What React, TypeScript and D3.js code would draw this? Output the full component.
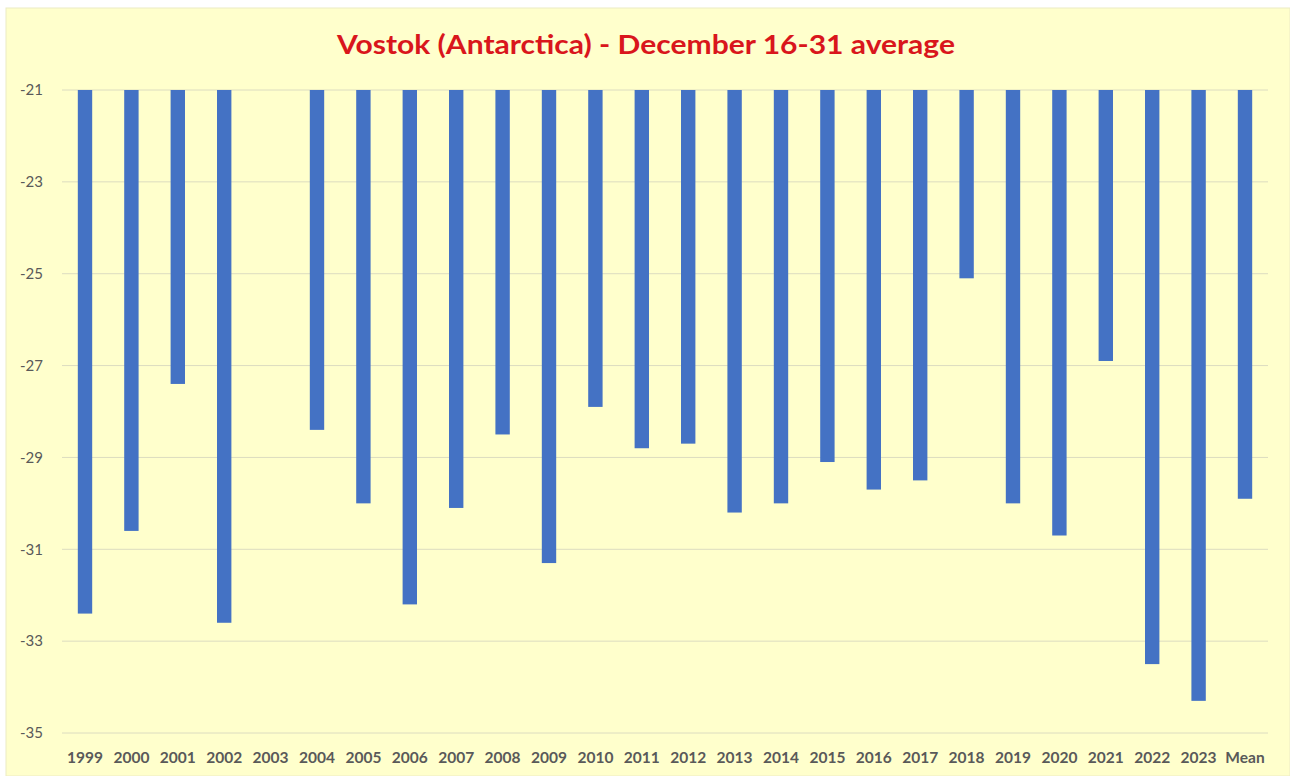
import React from "react";
import * as d3 from "d3";

const categories = ["1999","2000","2001","2002","2003","2004","2005","2006","2007","2008","2009","2010","2011","2012","2013","2014","2015","2016","2017","2018","2019","2020","2021","2022","2023","Mean"];
const values: (number | null)[] = [-32.4,-30.6,-27.4,-32.6,null,-28.4,-30.0,-32.2,-30.1,-28.5,-31.3,-27.9,-28.8,-28.7,-30.2,-30.0,-29.1,-29.7,-29.5,-25.1,-30.0,-30.7,-26.9,-33.5,-34.3,-29.9];
const yTicks = [-21,-23,-25,-27,-29,-31,-33,-35];
const title = "Vostok (Antarctica) - December 16-31 average";

const W = 1290, H = 776;

export default function App() {
  const x = d3.scaleBand<string>().domain(categories).range([61.8, 1268.2]).paddingInner(0.69).paddingOuter(0.345);
  const y = d3.scaleLinear().domain([-21, -35]).range([90, 733]);
  return (
    <svg width={W} height={H} style={{ position: "absolute", left: 0, top: 0 }}>
      <rect x={0} y={0} width={W} height={H} fill="#ffffff" />
      <rect x={6} y={8} width={W - 6} height={H - 8} fill="#ffffcc" stroke="#ecebc4" strokeWidth={1} />
      <text x={337} y={54} textLength={618} lengthAdjust="spacingAndGlyphs" fontFamily="Lato" fontWeight="bold" fontSize={27} fill="#d9161c">{title}</text>
      {yTicks.map(t => (
        <g key={t}>
          <line x1={62} x2={1268} y1={y(t)} y2={y(t)} stroke="#dcdcc0" strokeWidth={1} />
          <text x={43} y={y(t)} dy="0.35em" textAnchor="end" fontFamily="Lato" fontSize={15} fill="#595959">{t}</text>
        </g>
      ))}
      {categories.map((c, i) => {
        const v = values[i];
        return (
          <g key={c}>
            {v !== null && (
              <rect x={x(c)} y={y(-21)} width={x.bandwidth()} height={y(v) - y(-21)} fill="#4472c4" />
            )}
            <text x={(x(c) as number) + x.bandwidth() / 2} y={763} textAnchor="middle" fontFamily="Lato" fontWeight="bold" fontSize={15.5} fill="#595959">{c}</text>
          </g>
        );
      })}
    </svg>
  );
}
